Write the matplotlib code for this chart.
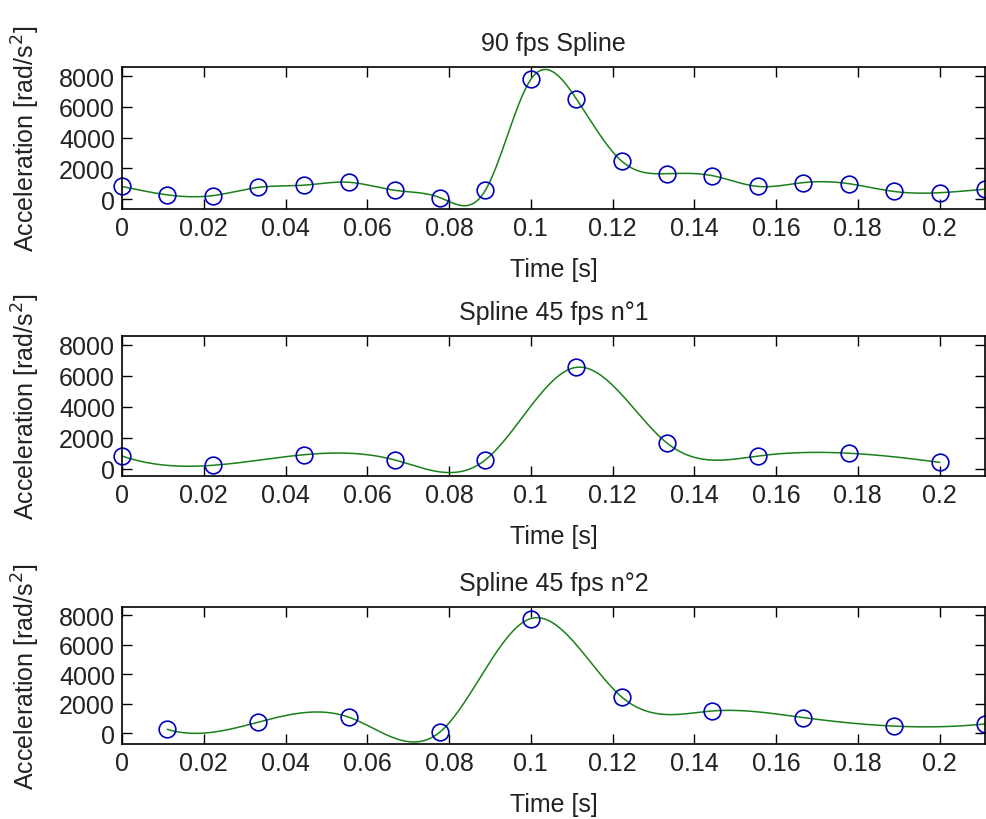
import numpy as np
import matplotlib
matplotlib.use("Agg")
import matplotlib.pyplot as plt
from matplotlib.ticker import FormatStrFormatter

# Samples at 90 fps (k = 0..19), acceleration in rad/s^2
frame = np.arange(20)
acc = np.array([820, 270, 220, 760, 900, 1090, 570, 90, 570, 7790,
                6540, 2470, 1650, 1520, 820, 1070, 1000, 490, 410, 640])
fps = 90.0

titles = ["90 fps Spline", "Spline 45 fps n\u00b01", "Spline 45 fps n\u00b02"]
subsets = [frame, frame[0::2], frame[1::2]]
ylims = [(-650, 8600), (-470, 8560), (-720, 8570)]


def spline_notaknot(x, y, xs):
    # cubic spline with not-a-knot ends (like MATLAB spline)
    n = len(x) - 1
    h = np.diff(x)
    A = np.zeros((n + 1, n + 1))
    b = np.zeros(n + 1)
    A[0, 0], A[0, 1], A[0, 2] = -1 / h[0], 1 / h[0] + 1 / h[1], -1 / h[1]
    A[n, n - 2], A[n, n - 1], A[n, n] = -1 / h[n - 2], 1 / h[n - 2] + 1 / h[n - 1], -1 / h[n - 1]
    for i in range(1, n):
        A[i, i - 1] = h[i - 1]
        A[i, i] = 2 * (h[i - 1] + h[i])
        A[i, i + 1] = h[i]
        b[i] = 6 * ((y[i + 1] - y[i]) / h[i] - (y[i] - y[i - 1]) / h[i - 1])
    M = np.linalg.solve(A, b)
    idx = np.clip(np.searchsorted(x, xs) - 1, 0, n - 1)
    x0, x1 = x[idx], x[idx + 1]
    hh = x1 - x0
    return (M[idx] * (x1 - xs) ** 3 / (6 * hh) + M[idx + 1] * (xs - x0) ** 3 / (6 * hh)
            + (y[idx] / hh - M[idx] * hh / 6) * (x1 - xs)
            + (y[idx + 1] / hh - M[idx + 1] * hh / 6) * (xs - x0))


plt.rcParams['font.family'] = ['Liberation Sans', 'DejaVu Sans']
fs = 18
txt = '#222222'

fig = plt.figure(figsize=(9.87, 8.2), dpi=100)
positions = [[0.1236, 0.7439, 0.8744, 0.1732],
             [0.1236, 0.4183, 0.8744, 0.1707],
             [0.1236, 0.0915, 0.8744, 0.1670]]

for pos, title, sub, yl in zip(positions, titles, subsets, ylims):
    ax = fig.add_axes(pos)
    t = sub / fps
    y = acc[sub]
    ts = np.linspace(t[0], t[-1], 600)
    ax.plot(ts, spline_notaknot(t, y.astype(float), ts), color=(0.1, 0.5, 0.1), lw=1.1)
    ax.plot(t, y, 'o', mfc='none', mec=(0, 0, 0.75), ms=12, mew=1.2, clip_on=False)
    ax.set_xlim(0, 19 / fps)
    ax.set_ylim(*yl)
    ax.set_xticks(np.arange(0, 0.201, 0.02))
    ax.set_yticks([0, 2000, 4000, 6000, 8000])
    ax.xaxis.set_major_formatter(FormatStrFormatter('%g'))
    ax.tick_params(direction='in', top=True, right=True, length=7, width=1,
                   labelsize=fs, pad=5, labelcolor=txt)
    for s in ax.spines.values():
        s.set_linewidth(1.2)
    ax.set_title(title, fontsize=fs, pad=12, color=txt)
    ax.set_xlabel('Time [s]', fontsize=fs, labelpad=12, color=txt)
    ax.set_ylabel('Acceleration [rad/s$^2$]', fontsize=fs, labelpad=12, color=txt)

fig.savefig('out.png', dpi=100)
